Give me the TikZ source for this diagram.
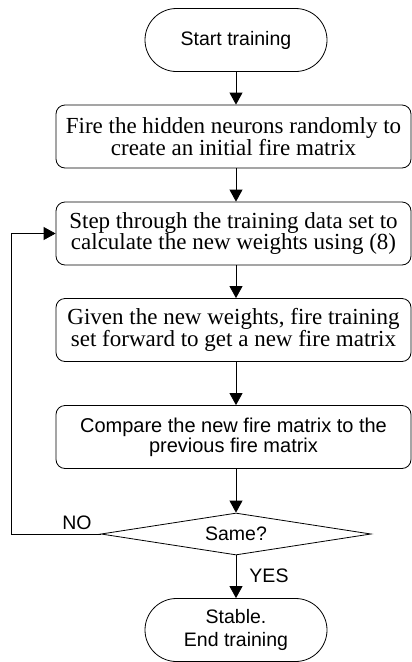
\documentclass[tikz,border=0pt]{standalone}
\usepackage{fontspec}
\setmainfont{Liberation Serif}
\setsansfont{Liberation Sans}
\usetikzlibrary{shapes.misc,shapes.geometric,arrows.meta}

\begin{document}
\begin{tikzpicture}[x=1pt,y=-1pt,
  line width=0.8pt,
  flow/.style={-{Triangle[length=12pt,width=13pt]}},
  terminal/.style={draw,rounded rectangle,minimum width=182pt,minimum height=63pt,
    inner sep=0pt,align=center,font=\sffamily\fontsize{19.5}{23}\selectfont},
  process/.style={draw,rectangle,rounded corners=9pt,minimum width=355pt,minimum height=63pt,
    inner sep=0pt,align=center,font=\fontsize{23}{21}\selectfont},
  sprocess/.style={process,font=\sffamily\fontsize{20}{20}\selectfont},
  decision/.style={draw,diamond,aspect=6.4,minimum width=270pt,minimum height=42pt,
    inner sep=0pt,font=\sffamily\fontsize{19.5}{24}\selectfont},
  answer/.style={font=\sffamily\fontsize{19.5}{24}\selectfont}]
\useasboundingbox (0,0) rectangle (412,662);
\node[terminal] (start) at (236,40) {Start training};
\node[process] (init) at (233.5,136.5) {Fire the hidden neurons randomly to\\create an initial fire matrix};
\node[process] (weights) at (233.5,233.5) {Step through the training data set to\\calculate the new weights using (8)};
\node[process] (forward) at (233.5,330) {Given the new weights, fire training\\set forward to get a new fire matrix};
\node[sprocess] (compare) at (233.5,437) {Compare the new fire matrix to the\\previous fire matrix};
\node[decision] (same) at (236,534) {Same?};
\node[terminal] (stable) at (236,630) {Stable.\\End training};
\coordinate (back) at (11,534);
% main flow
\foreach \a/\b in {start/init,init/weights,weights/forward,forward/compare,compare/same,same/stable}{
\draw[flow] (\a.south -| same.north) -- (\b.north -| same.north);};
% loop back
\draw[flow] (same.west) -- (back) |- (weights.west);
\node[answer] (no) at (77,523) {NO};
\node[answer] (yes) at (269,576) {YES};
\end{tikzpicture}
\end{document}
